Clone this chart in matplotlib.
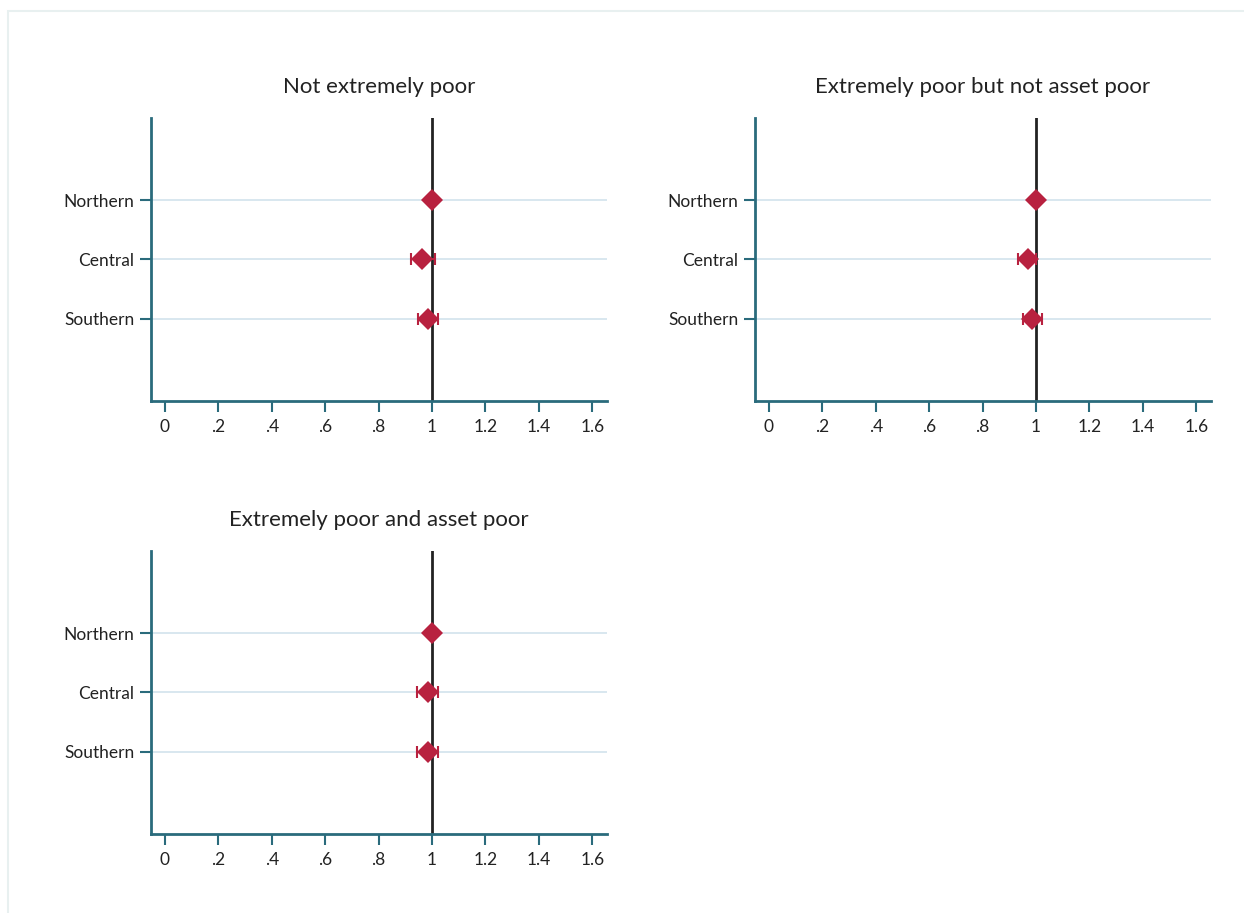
import matplotlib
matplotlib.use('Agg')
import matplotlib.pyplot as plt
from matplotlib.patches import Rectangle

# regions, top to bottom
regions = ['Northern', 'Central', 'Southern']

# ratio estimates with 95% bounds per group; Northern is the reference level
titles = ['Not extremely poor',
          'Extremely poor but not asset poor',
          'Extremely poor and asset poor']
estimates = [[1.0, 0.962, 0.984],
             [1.0, 0.971, 0.984],
             [1.0, 0.984, 0.984]]
lower = [[1.0, 0.923, 0.949],
         [1.0, 0.931, 0.953],
         [1.0, 0.942, 0.942]]
upper = [[1.0, 1.011, 1.024],
         [1.0, 1.000, 1.021],
         [1.0, 1.024, 1.024]]

xticks = [0, 0.2, 0.4, 0.6, 0.8, 1.0, 1.2, 1.4, 1.6]
xticklabels = ['0', '.2', '.4', '.6', '.8', '1', '1.2', '1.4', '1.6']

plt.rcParams['font.family'] = ['Lato', 'DejaVu Sans']
axis_col = '#2a6b7c'
grid_col = '#d5e5ee'
mark_col = '#b8213f'
text_col = '#222222'

W, H = 1244, 913
fig = plt.figure(figsize=(W / 100, H / 100), dpi=100)
fig.patch.set_facecolor('white')

# thin frame along the top and left edge
fig.add_artist(Rectangle((8 / W, -0.1), 1.2, 1.1 - 11 / H, transform=fig.transFigure,
                         fill=False, edgecolor='#e8f0f0', linewidth=1.5))

# panel boxes in pixels: left, top, right, bottom
boxes = [(151, 118, 607, 401), (755, 118, 1211, 401), (151, 551, 607, 834)]

ypos = [3, 2, 1]
for k, (l, t, r, b) in enumerate(boxes):
    ax = fig.add_axes([l / W, 1 - b / H, (r - l) / W, (b - t) / H])
    ax.set_xlim(-0.052, 1.655)
    ax.set_ylim(-0.38, 4.38)

    for y in ypos:
        ax.axhline(y, color=grid_col, linewidth=1.3, zorder=1)
    ax.axvline(1.0, color='#222222', linewidth=2, zorder=2)

    est = estimates[k]
    lo = [e - v for e, v in zip(est, lower[k])]
    hi = [v - e for e, v in zip(est, upper[k])]
    ax.errorbar(est, ypos, xerr=[lo, hi], fmt='none', ecolor=mark_col,
                elinewidth=1.5, capsize=4, capthick=1.5, zorder=3)
    ax.plot(est, ypos, 'D', color=mark_col, markersize=11, zorder=4,
            markeredgewidth=0)

    ax.set_yticks(ypos)
    ax.set_yticklabels(regions)
    ax.set_xticks(xticks)
    ax.set_xticklabels(xticklabels)
    ax.tick_params(axis='both', colors=axis_col, labelcolor=text_col,
                   labelsize=12.5, length=8, width=1.5)
    ax.tick_params(axis='x', pad=5)
    ax.tick_params(axis='y', pad=4)

    for side in ['top', 'right']:
        ax.spines[side].set_visible(False)
    for side in ['left', 'bottom']:
        ax.spines[side].set_color(axis_col)
        ax.spines[side].set_linewidth(2)

    ax.set_title(titles[k], fontsize=16, color=text_col, pad=18)

fig.savefig('out.png', dpi=100)
